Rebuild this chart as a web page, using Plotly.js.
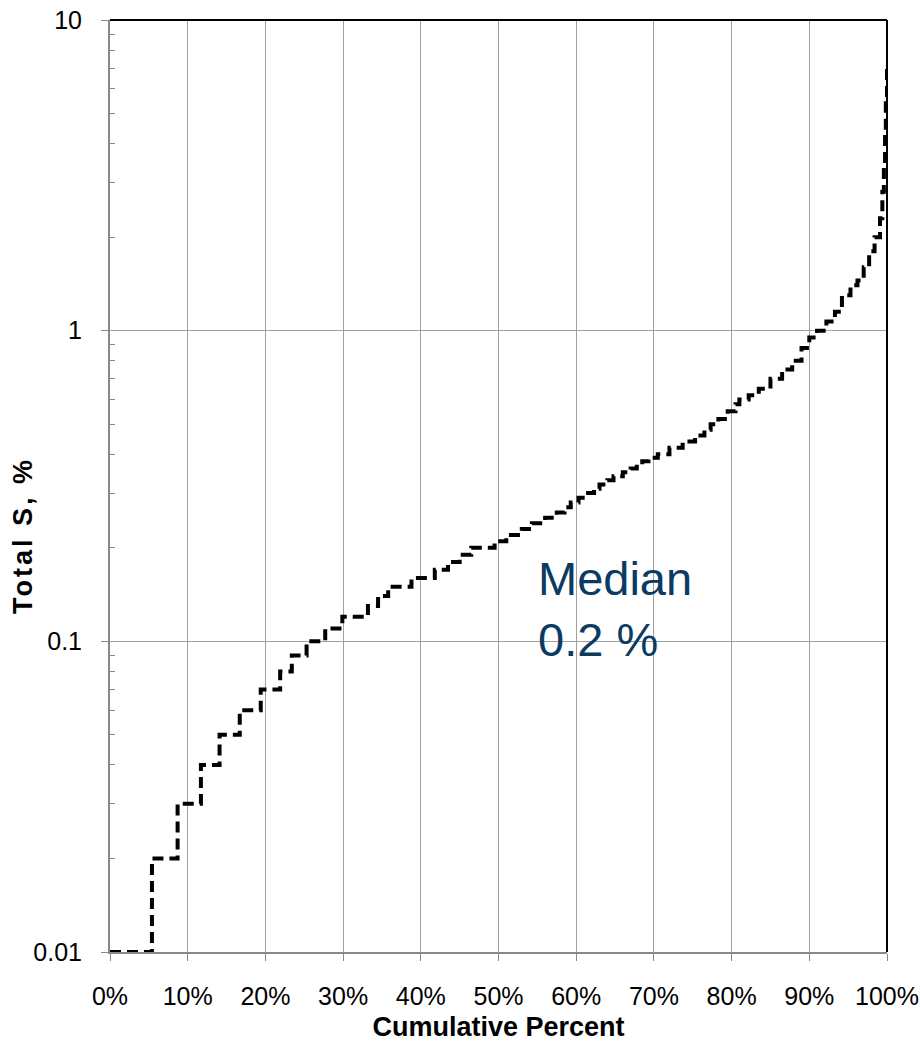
<!DOCTYPE html>
<html>
<head>
<meta charset="utf-8">
<script src="https://cdn.plot.ly/plotly-3.0.1.min.js"></script>
<style>
html,body{margin:0;padding:0;background:#fff;}
#chart{width:920px;height:1045px;}
</style>
</head>
<body>
<div id="chart"></div>
<script>
// Cumulative percent (x) where each Total S level (y) begins (step curve)
const cumulativePercent = [0, 5.4, 8.7, 11.7, 14.1, 16.7, 19.4, 21.9, 23.4, 25.3, 27.7, 29.9, 33.2, 34.5, 35.8, 38.8,
  41.8, 43.5, 45, 46.5, 49.5, 51, 53, 54.3, 56, 57.5, 58.5, 59.3, 60.3, 61.2, 62.3, 63, 64, 64.8, 66, 67, 67.8, 68.5,
  69.3, 70.5, 72, 73.7, 75.3, 76.5, 77.3, 78.3, 79.5, 80.5, 81, 82.2, 83.5, 85, 86.5, 87.8, 89, 90, 91, 92.2, 93.3,
  94.2, 95.3, 96.2, 97, 97.7, 98.4, 99.1, 99.4, 99.6, 99.75, 99.85, 100];
const totalS = [0.01, 0.02, 0.03, 0.04, 0.05, 0.06, 0.07, 0.08, 0.09, 0.10, 0.11, 0.12, 0.13, 0.14, 0.15, 0.16,
  0.17, 0.18, 0.19, 0.20, 0.21, 0.22, 0.23, 0.24, 0.25, 0.26, 0.27, 0.28, 0.29, 0.30, 0.31, 0.32, 0.33, 0.34, 0.35, 0.36, 0.37, 0.38,
  0.39, 0.40, 0.42, 0.44, 0.46, 0.48, 0.50, 0.52, 0.55, 0.58, 0.60, 0.62, 0.65, 0.70, 0.75, 0.80, 0.88, 0.95, 1.00, 1.07, 1.15,
  1.30, 1.40, 1.45, 1.60, 1.80, 2.00, 2.30, 2.80, 3.40, 4.30, 5.40, 7.00];

const xTickVals = [0, 10, 20, 30, 40, 50, 60, 70, 80, 90, 100];
const xTickText = ['0%', '10%', '20%', '30%', '40%', '50%', '60%', '70%', '80%', '90%', '100%'];
const yTickVals = [0.01, 0.1, 1, 10];
const yTickText = ['0.01', '0.1', '1', '10'];
const yMinorVals = [0.02,0.03,0.04,0.05,0.06,0.07,0.08,0.09,0.2,0.3,0.4,0.5,0.6,0.7,0.8,0.9,2,3,4,5,6,7,8,9];
const medianText = 'Median<br>0.2 %';
const xTitle = 'Cumulative Percent';
const yTitle = 'Total S, %';

const tickFont = {family: 'Arial, "Liberation Sans", sans-serif', size: 25, color: '#000'};

const trace = {
  x: cumulativePercent,
  y: totalS,
  type: 'scatter',
  mode: 'lines',
  line: {shape: 'hv', color: '#000', width: 4, dash: '11px,6px'},
  hoverinfo: 'skip',
  showlegend: false
};

const layout = {
  width: 920, height: 1045,
  margin: {l: 110, r: 33, t: 20, b: 93, pad: 0},
  paper_bgcolor: '#fff', plot_bgcolor: '#fff',
  font: {family: 'Arial, "Liberation Sans", sans-serif', color: '#000'},
  xaxis: {
    range: [0, 100],
    tickmode: 'array', tickvals: xTickVals, ticktext: xTickText,
    ticks: 'outside', ticklen: 7, tickcolor: '#888', tickwidth: 1,
    showgrid: true, gridcolor: '#a0a0a0', gridwidth: 1,
    showline: true, linecolor: '#888', linewidth: 2,
    zeroline: false,
    tickfont: tickFont,
    ticklabelstandoff: 14,
    title: {text: xTitle, font: {family: 'Arial, "Liberation Sans", sans-serif', size: 27, weight: 'bold', color: '#000'}, standoff: 8},
    fixedrange: true
  },
  yaxis: {
    type: 'log',
    range: [-2, 1],
    tickmode: 'array', tickvals: yTickVals, ticktext: yTickText,
    ticks: 'outside', ticklen: 7, tickcolor: '#888', tickwidth: 1,
    minor: {tickmode: 'array', tickvals: yMinorVals, ticks: 'inside', ticklen: 5, tickcolor: '#888', tickwidth: 1, showgrid: false},
    showgrid: true, gridcolor: '#a0a0a0', gridwidth: 1,
    showline: true, linecolor: '#888', linewidth: 2,
    zeroline: false,
    tickfont: tickFont,
    ticklabelstandoff: 14,
    fixedrange: true
  },
  shapes: [
    {type: 'line', xref: 'paper', yref: 'paper', x0: 0, x1: 1, y0: 1, y1: 1, line: {color: '#000', width: 2}},
    {type: 'line', xref: 'paper', yref: 'paper', x0: 1, x1: 1, y0: 0, y1: 1, line: {color: '#000', width: 2}}
  ],
  annotations: [
    {
      text: medianText, xref: 'x', yref: 'y', x: 54.8, y: Math.log10(0.127),
      xanchor: 'left', yanchor: 'middle', align: 'left', showarrow: false,
      font: {family: 'Arial, "Liberation Sans", sans-serif', size: 47, color: '#0b3a63'}
    },
    {
      text: yTitle, xref: 'paper', yref: 'paper', x: (23 - 110) / 777, y: (952 - 536) / 932,
      xanchor: 'center', yanchor: 'middle', textangle: -90, showarrow: false,
      font: {family: 'Arial, "Liberation Sans", sans-serif', size: 27, weight: 'bold', color: '#000'}
    }
  ]
};

Plotly.newPlot('chart', [trace], layout, {displayModeBar: false, staticPlot: true}).then(function (gd) {
  // widen the rotated y title a little, as in the reference
  const t = gd.querySelectorAll('.annotation-text');
  t.forEach(function (el) {
    if (el.textContent === yTitle) el.style.letterSpacing = '3px';
  });
});
</script>
</body>
</html>
